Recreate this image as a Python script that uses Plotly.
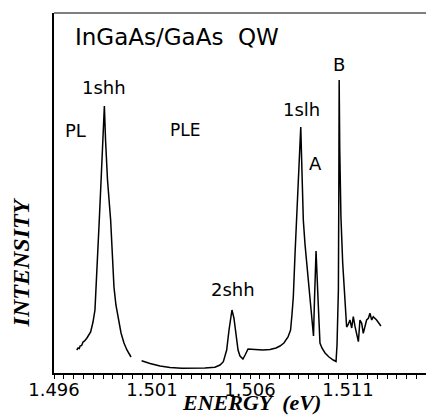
import plotly.graph_objects as go

# PL spectrum (energy eV, intensity a.u.)
pl_energy = [1.49716, 1.49723, 1.49729, 1.49733, 1.49741, 1.49748, 1.49756, 1.49768,
             1.49787, 1.49799, 1.49809, 1.49819, 1.49827, 1.49831, 1.49838, 1.49847,
             1.49857, 1.49863, 1.49873, 1.49889, 1.49896, 1.49906, 1.49916, 1.49928,
             1.49942, 1.49957, 1.49972, 1.49993]
pl_intensity = [23, 25, 24.5, 27, 27.5, 31, 32, 35,
                41, 51, 63, 98, 128, 153, 183, 223,
                267, 233, 193, 153, 118, 86, 68, 53,
                40, 30, 23, 16]

# PLE spectrum (energy eV, intensity a.u.)
ple_energy = [1.50047, 1.50090, 1.50141, 1.50192, 1.50252, 1.50319, 1.50370, 1.50421,
              1.50447, 1.50464, 1.50481, 1.50493, 1.50508, 1.50518, 1.50526, 1.50539,
              1.50549, 1.50564, 1.50575, 1.50590, 1.50626, 1.50666, 1.50702, 1.50733,
              1.50753, 1.50773, 1.50794, 1.50807, 1.50814, 1.50821, 1.50830, 1.50838,
              1.50847, 1.50859, 1.50865, 1.50872, 1.50881, 1.50889, 1.50898, 1.50906,
              1.50914, 1.50920, 1.50924, 1.50929, 1.50933, 1.50937, 1.50941, 1.50944,
              1.50948, 1.50957, 1.50967, 1.50983, 1.51003, 1.51025, 1.51039, 1.51044,
              1.51051, 1.51053, 1.51055, 1.51058, 1.51061, 1.51064, 1.51073, 1.51085,
              1.51093, 1.51100, 1.51110, 1.51119, 1.51127, 1.51136, 1.51147, 1.51153,
              1.51161, 1.51170, 1.51178, 1.51187, 1.51195, 1.51204, 1.51212, 1.51221,
              1.51229, 1.51246, 1.51258, 1.51268]
ple_intensity = [12.3, 9.5, 7, 5.5, 4.7, 4.7, 5, 5.7,
                 8, 11.3, 23, 43, 63, 55, 43, 23,
                 17, 14, 18, 24, 23.5, 23, 23.5, 25,
                 27, 30, 36, 43, 58, 76, 120, 153,
                 203, 246, 203, 153, 128, 110, 90, 70,
                 51, 38, 37, 73, 103, 122, 103, 83,
                 70, 30, 25, 20, 16, 13, 11.5, 28,
                 83, 173, 293, 223, 173, 156, 110, 70,
                 46, 48, 53, 45, 56.3, 46.3, 36.3, 31.3,
                 53, 49.7, 39.7, 46.3, 53, 54.7, 59.7, 53,
                 56.3, 53, 50, 47]

x_range = [1.496, 1.51498]
x_tick_start = 1.496
x_major_step = 0.005
x_minor_step = 0.0005

line_style = dict(color="black", width=1.5)

fig = go.Figure()
# PL on the labelled axis, PLE on the tick-mark axis (both share the same range)
fig.add_trace(go.Scatter(x=pl_energy, y=pl_intensity, mode="lines", line=line_style,
                         showlegend=False, hoverinfo="skip", xaxis="x"))
fig.add_trace(go.Scatter(x=ple_energy, y=ple_intensity, mode="lines", line=line_style,
                         showlegend=False, hoverinfo="skip", xaxis="x2"))

label_font = dict(family="DejaVu Sans", size=18, color="black")
annotations = [
    dict(text="InGaAs/GaAs\u00a0\u00a0QW", x=0.051, y=0.933, xanchor="left", yanchor="middle",
         font=dict(family="DejaVu Sans", size=23, color="black")),
    dict(text="1shh", x=0.1344, y=0.7917, font=label_font),
    dict(text="PL", x=0.0578, y=0.675, font=label_font),
    dict(text="PLE", x=0.3522, y=0.675, font=dict(family="DejaVu Sans", size=17, color="black")),
    dict(text="1slh", x=0.664, y=0.7306, font=label_font),
    dict(text="A", x=0.7043, y=0.5806, font=label_font),
    dict(text="B", x=0.7656, y=0.8583, font=label_font),
    dict(text="2shh", x=0.4812, y=0.2333, font=label_font),
    dict(text="<b><i>ENERGY\u2009 (eV)</i></b>", x=0.532, y=-0.1222, yanchor="bottom",
         font=dict(family="Liberation Serif", size=22, color="black")),
    dict(text="<b><i>INTENSITY</i></b>", x=-0.088, y=0.308, textangle=-90,
         font=dict(family="Liberation Serif", size=24, color="black")),
]
for a in annotations:
    a.setdefault("xanchor", "center")
    a.setdefault("yanchor", "middle")
    a.update(xref="paper", yref="paper", showarrow=False)

fig.update_layout(
    width=426, height=417,
    margin=dict(l=54, r=0, t=13, b=44),
    paper_bgcolor="white", plot_bgcolor="white",
    annotations=annotations,
    shapes=[dict(type="line", xref="paper", yref="paper", x0=0, x1=1, y0=1, y1=1,
                 line=dict(color="black", width=1.2))],
    # main axis: line + labels (no tick marks so labels sit close to the axis)
    xaxis=dict(range=x_range, tickmode="linear", tick0=x_tick_start,
               dtick=x_major_step, tickformat=".3f", ticks="",
               showline=True, linecolor="black", linewidth=1.5,
               showgrid=False, zeroline=False,
               tickfont=dict(family="DejaVu Sans", size=18, color="black")),
    # overlay axis: tick marks every 0.0005 eV
    xaxis2=dict(range=x_range, overlaying="x", side="bottom", anchor="y",
                tickmode="linear", tick0=x_tick_start, dtick=x_minor_step,
                ticks="outside", ticklen=5, tickwidth=1.2, tickcolor="black",
                showticklabels=False, showline=False, showgrid=False, zeroline=False),
    yaxis=dict(range=[0, 360], showline=True, linecolor="black", linewidth=1.5,
               showticklabels=False, ticks="", showgrid=False, zeroline=False),
)

fig.write_html("out.html")
